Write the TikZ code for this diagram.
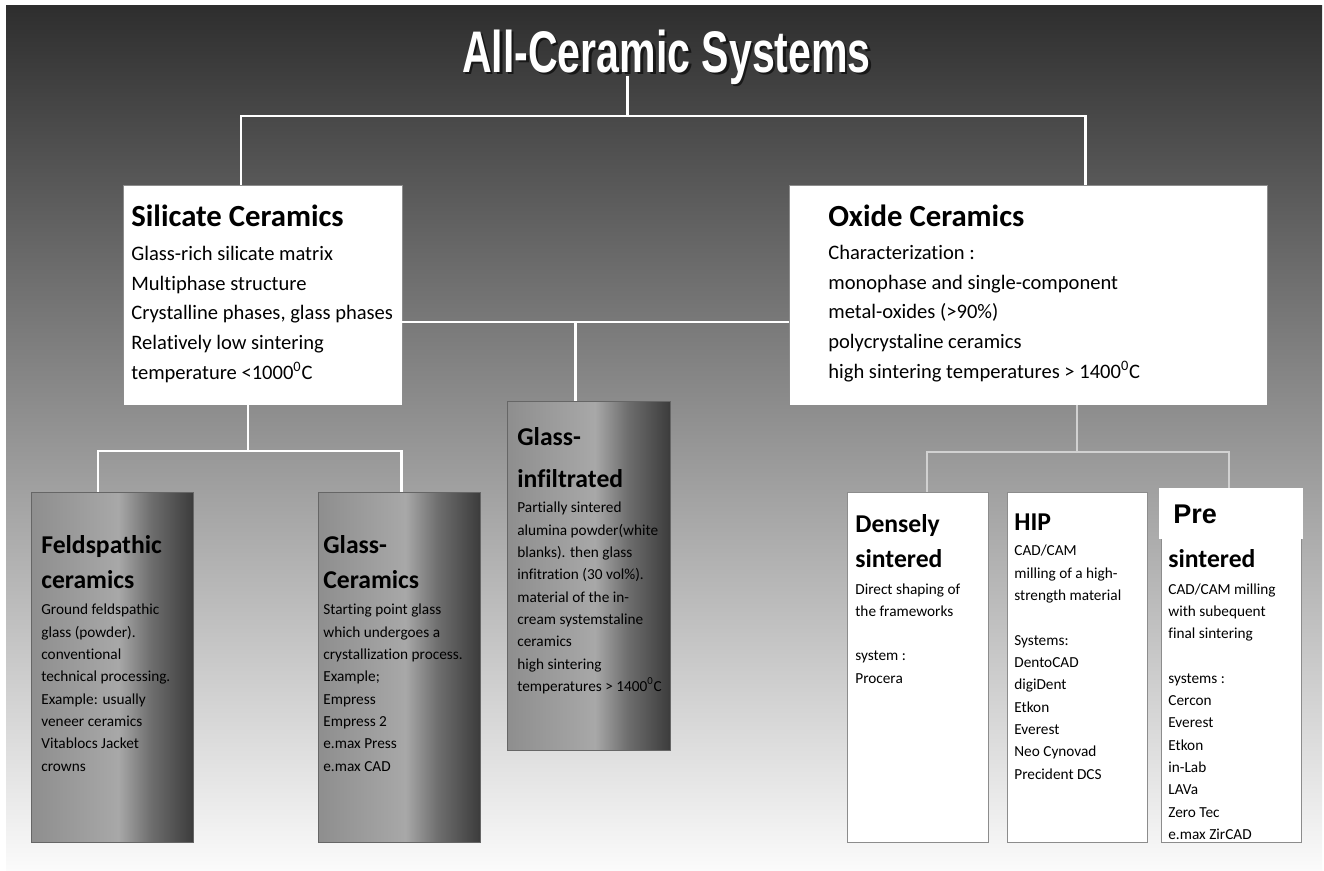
\documentclass[tikz,border=0pt]{standalone}
\usepackage{fontspec}
\setmainfont{Carlito}[Ligatures=NoCommon]
\newfontfamily\arialfont{Liberation Sans}
\usetikzlibrary{fit,calc}

\definecolor{bgtop}{HTML}{2E2E2E}
\definecolor{bgmid}{HTML}{8A8A8A}
\definecolor{bgbot}{HTML}{FBFBFB}
\definecolor{barleft}{HTML}{8E8E8E}
\definecolor{barlight}{HTML}{A8A8A8}
\definecolor{barmid}{HTML}{6E6E6E}
\definecolor{bardark}{HTML}{3C3C3C}
\pgfdeclarehorizontalshading{barshade}{100bp}{color(0bp)=(barleft); color(25bp)=(barleft); color(52bp)=(barlight); color(62bp)=(barmid); color(75bp)=(bardark); color(100bp)=(bardark)}

\newcommand{\titletext}{\scalebox{0.7}[1]{All-Ceramic Systems}}

\begin{document}
\begin{tikzpicture}[x=0.02cm, y=-0.02cm,
    link/.style={draw=white, line width=1.7pt},
    thinlink/.style={draw=black!18, line width=0.6pt},
    whitebox/.style={fill=white, draw=black!45, line width=0.5pt, inner sep=0pt},
    barbox/.style={shading=barshade, draw=black!60, line width=0.5pt, inner sep=0pt},
    bighead/.style={font=\fontsize{17.5}{21}\selectfont\bfseries, inner sep=0pt, anchor=base west},
    bigtext/.style={font=\fontsize{11.7}{16.8}\selectfont, align=left, inner sep=0pt, anchor=base west},
    head/.style={font=\fontsize{14.6}{19.9}\selectfont\bfseries, align=left, inner sep=0pt, anchor=base west},
    smalltext/.style={font=\fontsize{8.7}{12.7}\selectfont, align=left, inner sep=0pt, anchor=base west}]

    \useasboundingbox (0,0) rectangle (1324,871);
    % background
    \shade[top color=bgtop, middle color=bgmid, bottom color=bgbot] (6,6) rectangle (1322,871);

    % title
    \node[anchor=base, inner sep=0pt, text=black, opacity=0.6,
        font=\fontsize{33.4}{40}\selectfont\arialfont\bfseries] (titleshadow) at (669,75) {\titletext};
    \node[anchor=base, inner sep=0pt, text=white,
        font=\fontsize{33.4}{40}\selectfont\arialfont\bfseries] (title) at (666.5,73) {\titletext};

    % boxes
    \node[whitebox, fit={(123,185) (402,405)}] (sil) {};
    \node[whitebox, fit={(789,185) (1267,405)}] (oxi) {};
    \node[barbox, fit={(507,401) (670,750)}] (inf) {};
    \node[barbox, fit={(31,492) (193,842)}] (feld) {};
    \node[barbox, fit={(318,492) (480,842)}] (gc) {};
    \node[whitebox, fit={(847,492) (988,842)}] (dens) {};
    \node[whitebox, fit={(1007,492) (1147,842)}] (hip) {};
    \node[whitebox, fit={(1161,488) (1301,842)}] (pre) {};
    \node[fill=white, inner sep=0pt, fit={(1159,488) (1303,539)}] (prehead) {};

    % top connectors
    \coordinate (topbar) at (627,116);
    \coordinate (silstem) at (241,116);
    \coordinate (oxistem) at (1085,116);
    \draw[link] ($(title.base -| topbar)+(0,3)$) -- (topbar);
    \draw[link] (sil.north -| silstem) |- (topbar) -| (oxi.north -| oxistem);

    \coordinate (midbar) at (575,322);
    \draw[link] (sil.east |- midbar) -- (oxi.west |- midbar);
    \draw[link] (midbar) -- (inf.north -| midbar);

    % silicate branch
    \coordinate (silbar) at (248,451);
    \coordinate (feldstem) at (98,451);
    \coordinate (gcstem) at (401,451);
    \draw[link] (sil.south -| silbar) -- (silbar);
    \draw[link] (feld.north -| feldstem) |- (gcstem) -- (gc.north -| gcstem);

    % oxide branch
    \coordinate (oxibar) at (1077,452);
    \coordinate (denstem) at (927,452);
    \coordinate (prestem) at (1229,452);
    \draw[thinlink] (oxi.south -| oxibar) -- (oxibar);
    \draw[thinlink] (dens.north -| denstem) |- (prestem) -- (prehead.north -| prestem);

    % upper texts (multi-line nodes sit on their last baseline)
    \node[bighead] (silH) at (131,227) {Silicate Ceramics};
    \node[bigtext] (silT) at (131,379) {Glass-rich silicate matrix\\Multiphase structure\\Crystalline phases, glass phases\\Relatively low sintering\\temperature <1000\textsuperscript{0}C};
    \node[bighead] (oxiH) at (828,227) {Oxide Ceramics};
    \node[bigtext] (oxiT) at (828,378) {Characterization :\\monophase and single-component\\metal-oxides (>90\%)\\polycrystaline ceramics\\high sintering temperatures > 1400\textsuperscript{0}C};

    % lower texts
    \node[head] (feldH) at (41,588) {Feldspathic\\ceramics};
    \node[smalltext] (feldT) at (41,771) {Ground feldspathic\\glass (powder).\\conventional\\technical processing.\\Example: usually\\veneer ceramics\\Vitablocs Jacket\\crowns};
    \node[head] (gcH) at (323,588) {Glass-\\Ceramics};
    \node[smalltext] (gcT) at (323,771) {Starting point glass\\which undergoes a\\crystallization process.\\Example;\\Empress\\Empress 2\\e.max Press\\e.max CAD};
    \node[head, font=\fontsize{14.6}{23.9}\selectfont\bfseries] (infH) at (517,487) {Glass-\\infiltrated};
    \node[smalltext] (infT) at (517,691.5) {Partially sintered\\alumina powder(white\\blanks). then glass\\infitration (30 vol\%).\\material of the in-\\cream systemstaline\\ceramics\\high sintering\\temperatures > 1400\textsuperscript{0}C};

    \node[head] (densH) at (855,567) {Densely\\sintered};
    \node[smalltext] (densT) at (855,683.3) {Direct shaping of\\the frameworks\\[12.7pt]system :\\Procera};
    \node[head] (hipH) at (1014,530) {HIP};
    \node[smalltext] (hipT) at (1014,779) {CAD/CAM\\milling of a high-\\strength material\\[12.7pt]Systems:\\DentoCAD\\digiDent\\Etkon\\Everest\\Neo Cynovad\\Precident DCS};
    \node[anchor=base west, inner sep=0pt, font=\fontsize{15.4}{18}\selectfont\arialfont\bfseries] (preH) at (1173,523) {Pre};
    \node[head] (preH2) at (1168,567) {sintered};
    \node[smalltext] (preT) at (1168,839.5) {CAD/CAM milling\\with subequent\\final sintering\\[12.7pt]systems :\\Cercon\\Everest\\Etkon\\in-Lab\\LAVa\\Zero Tec\\e.max ZirCAD};

\end{tikzpicture}
\end{document}
